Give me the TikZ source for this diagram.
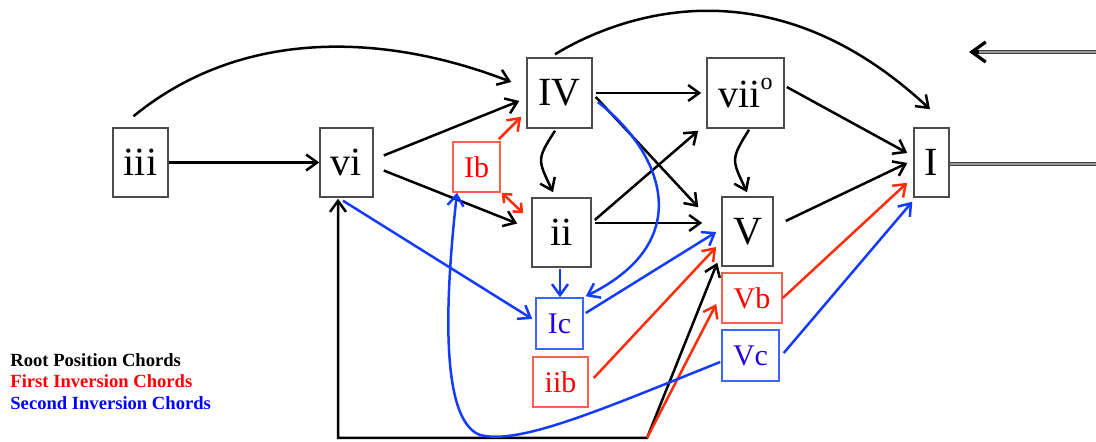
\documentclass[tikz,border=0pt]{standalone}
\usepackage{fontspec}
\setmainfont{Liberation Serif}
\usetikzlibrary{arrows.meta}

\definecolor{invred}{RGB}{255,45,10}
\definecolor{invblue}{RGB}{20,60,255}
\definecolor{boxred}{RGB}{255,95,80}
\definecolor{boxblue}{RGB}{60,100,255}
\definecolor{txtblue}{RGB}{40,0,225}

\tikzset{
  chord/.style={draw=black!70, line width=0.75pt, fill=white, inner sep=0pt,
    font=\fontsize{20}{24}\selectfont},
  firstinv/.style={draw=boxred, line width=0.75pt, fill=white, inner sep=0pt,
    text=red, font=\fontsize{15}{18}\selectfont},
  secondinv/.style={draw=boxblue, line width=0.75pt, fill=white, inner sep=0pt,
    text=txtblue, font=\fontsize{15}{18}\selectfont},
  move/.style={line width=1.25pt, ->},
  redmove/.style={move, draw=invred},
  bluemove/.style={move, draw=invblue},
  shortmove/.style={{Straight Barb[length=3.5pt,width=6pt]}-{Straight Barb[length=3.5pt,width=6pt]}},
  tie/.style={draw=black!75, line width=0.6pt, double=black!40, double distance=1pt},
  backtip/.style={line width=1.6pt, -{Straight Barb[length=7pt,width=10pt]}},
  legend/.style={font=\fontsize{9.3}{10}\selectfont\bfseries, anchor=base west, inner sep=0pt}
}

\begin{document}
\begin{tikzpicture}[x=0.5pt, y=-0.5pt, >={Straight Barb[length=5.5pt,width=8pt]}]
\useasboundingbox (0,0) rectangle (1096,442);

% Root position chords
\node[chord, minimum width=27.5pt, minimum height=34.5pt] (iii) at (140.5,162.5) {iii};
\node[chord, minimum width=26.5pt, minimum height=34.5pt] (vi) at (346.5,162.5) {vi};
\node[chord, minimum width=32.5pt, minimum height=35pt] (IV) at (559.5,93) {IV};
\node[chord, minimum width=38.5pt, minimum height=35pt] (vii) at (745.5,93) {vii\raisebox{9pt}{\fontsize{12}{13}\selectfont o}};
\node[chord, minimum width=17.5pt, minimum height=34.5pt] (I) at (931.5,162.5) {I};
\node[chord, minimum width=29.5pt, minimum height=34.5pt] (ii) at (561.5,232.5) {ii};
\node[chord, minimum width=25.5pt, minimum height=34.5pt] (V) at (747.5,231.5) {V};

% First inversion chords
\node[firstinv, minimum width=23.5pt, minimum height=25pt] (Ib) at (476.5,167) {Ib};
\node[firstinv, minimum width=27.5pt, minimum height=25pt] (iib) at (560.5,382) {iib};
\node[firstinv, minimum width=30pt, minimum height=25pt] (Vb) at (752,298) {Vb};

% Second inversion chords
\node[secondinv, minimum width=23.5pt, minimum height=25.5pt] (Ic) at (559.5,323.5) {Ic};
\node[secondinv, minimum width=28.5pt, minimum height=25.5pt] (Vc) at (750.5,355.5) {Vc};

% Free ends
\coordinate (split) at (647,438);
\coordinate (tieR) at (1096,164);
\coordinate (backR) at (1096,52);
\coordinate (backL) at (969,52);

% Black moves
\draw[move] (iii.east) -- (vi.west);
\draw[move] ([shift={(-7,-11)}]iii.north) .. controls (245,25) and (390,35) .. ([shift={(-15,-11)}]IV.west);
\draw[move] ([shift={(10,-7)}]vi.east) -- ([shift={(-7,8)}]IV.west);
\draw[move] ([shift={(10,8)}]vi.east) -- ([shift={(-14,-9)}]ii.west);
\draw[move] ([shift={(3,0)}]IV.east) -- ([shift={(-5,0)}]vii.west);
\draw[move] ([shift={(3,4)}]IV.east) -- ([shift={(-23,11)}]V.north west);
\draw[move] ([shift={(-4.5,2)}]IV.south) .. controls (536,160) and (538,160) .. ([shift={(-8.5,-5)}]ii.north);
\draw[move] ([shift={(3.5,1)}]vii.south) .. controls (730,160) and (732,160) .. ([shift={(-0.5,-4)}]V.north);
\draw[move] ([shift={(2,-6)}]vii.east) -- ([shift={(-6,-9.5)}]I.west);
\draw[move] ([shift={(3,-12.5)}]ii.east) -- ([shift={(-8,2)}]vii.south west);
\draw[move] ([shift={(3,-9.5)}]ii.east) -- ([shift={(-19,-8.5)}]V.west);
\draw[move] ([shift={(12,-10.5)}]V.east) -- ([shift={(-6,0.5)}]I.west);
\draw[move] ([shift={(-4.5,-3)}]IV.north) .. controls (620,15) and (770,-40) .. ([shift={(-1.5,-18)}]I.north);
\draw[move, <->] ([shift={(-8.5,1)}]vi.south) |- (split) -- ([shift={(-4,-4)}]V.south west);

% Red moves
\draw[redmove] ([shift={(-2,-2)}]Ib.north east) -- ([shift={(-5,-12)}]IV.south west);
\draw[redmove, shortmove] ([shift={(1,0)}]Ib.south east) -- ([shift={(-8,16)}]ii.north west);
\draw[redmove] (split) -- ([shift={(-5,6)}]Vb.west);
\draw[redmove] ([shift={(5,-4)}]iib.east) -- ([shift={(-5,15.5)}]V.west);
\draw[redmove] (Vb.east) -- ([shift={(-6,-15)}]I.south west);

% Blue moves
\draw[bluemove] ([shift={(-3.5,3)}]vi.south) -- ([shift={(-3,-4.5)}]Ic.west);
\draw[bluemove] ([shift={(-1.5,1)}]ii.south) -- ([shift={(0.5,0)}]Ic.north);
\draw[bluemove] ([shift={(2,-10.5)}]Ic.east) -- ([shift={(-5,0.5)}]V.west);
\draw[bluemove] ([shift={(5,9)}]IV.east) .. controls (660,150) and (700,240) .. ([shift={(2,-1)}]Ic.north east);
\draw[bluemove] ([shift={(-1,6.5)}]Vc.west) .. controls (600,410) and (520,445) .. (480,435)
  .. controls (440,420) and (445,300) .. ([shift={(-19.5,0)}]Ib.south);
\draw[bluemove] ([shift={(4,-2.5)}]Vc.east) -- ([shift={(-1,4)}]I.south west);

% Tie lines
\draw[tie] ([shift={(0,1.5)}]I.east) -- (tieR);
\draw[tie] (backR) -- ([shift={(6,0)}]backL);
\draw[backtip] ([shift={(10,0)}]backL) -- (backL);

% Legend
\node[legend] (rootleg) at (10,367) {Root Position Chords};
\node[legend, text=red] (firstleg) at (10,387.5) {First Inversion Chords};
\node[legend, text=blue] (secondleg) at (10,409) {Second Inversion Chords};

\end{tikzpicture}
\end{document}
